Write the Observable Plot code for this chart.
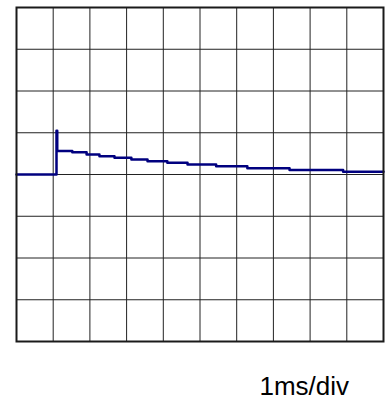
<!DOCTYPE html>
<html>
<head>
<meta charset="utf-8">
<script src="https://cdn.jsdelivr.net/npm/d3@7"></script>
<script src="https://cdn.jsdelivr.net/npm/@observablehq/plot@0.6"></script>
<style>
  html, body { margin: 0; padding: 0; background: #fff; }
  #chart svg { display: block; }
</style>
</head>
<body>
<div id="chart"></div>
<script>
// Time (ms) at which each level starts, and trace level (divisions)
const timeMs = [0, 1.08, 1.09, 1.11, 1.52, 1.91, 2.26, 2.67, 3.13, 3.57, 4.11, 4.66, 5.44, 6.29, 7.44, 8.90, 10];
const level  = [0, 0, 1.05, 0.56, 0.53, 0.48, 0.44, 0.40, 0.36, 0.32, 0.28, 0.24, 0.20, 0.15, 0.11, 0.065, 0.065];
const xDivs = [0, 1, 2, 3, 4, 5, 6, 7, 8, 9, 10];
const yDivs = [-4, -3, -2, -1, 0, 1, 2, 3, 4];
const scaleLabel = ["1ms/div"];

const trace = timeMs.map((t, i) => ({t, v: level[i]}));

const chart = Plot.plot({
  width: 385,
  height: 400,
  marginLeft: 16,
  marginRight: 2,
  marginTop: 7,
  marginBottom: 59,
  style: {fontFamily: "'Liberation Sans', Arial, sans-serif", background: "#fff"},
  x: {domain: [0, 10], axis: null},
  y: {domain: [-4, 4], axis: null},
  marks: [
    Plot.gridX(xDivs, {stroke: "#222", strokeOpacity: 1, strokeWidth: 1}),
    Plot.gridY(yDivs, {stroke: "#222", strokeOpacity: 1, strokeWidth: 1}),
    Plot.line(trace, {x: "t", y: "v", curve: "step-after", stroke: "#00007f", strokeWidth: 2.5}),
    Plot.frame({stroke: "#1a1a1a", strokeWidth: 2}),
    Plot.text(scaleLabel, {text: d => d, frameAnchor: "bottom-right", textAnchor: "start", lineAnchor: "bottom", dx: -124, dy: 53, fontSize: 26, fill: "#000"})
  ]
});
document.getElementById("chart").appendChild(chart);
</script>
</body>
</html>
